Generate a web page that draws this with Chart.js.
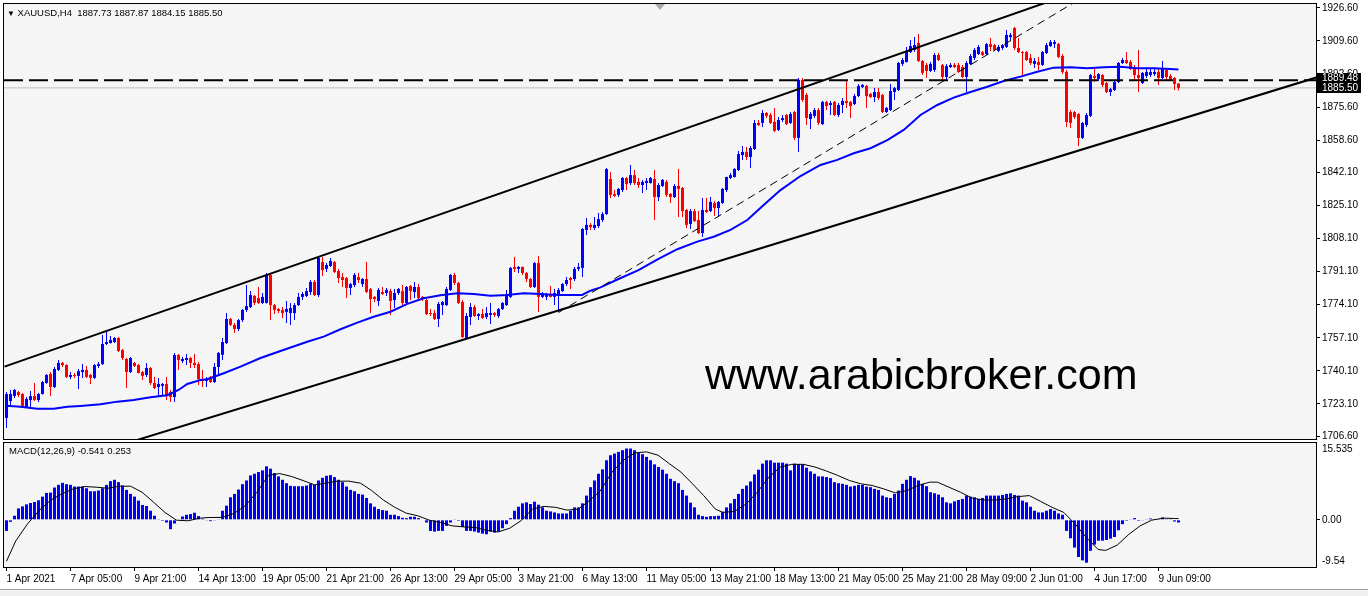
<!DOCTYPE html>
<html>
<head>
<meta charset="utf-8">
<title>XAUUSD H4</title>
<script src="https://cdn.jsdelivr.net/npm/chart.js@4.4.1/dist/chart.umd.min.js"></script>
<style>
  html, body { margin: 0; padding: 0; background: #fff; }
  #wrap { position: relative; width: 1368px; height: 596px; overflow: hidden; background: #fff;
          font-family: "Liberation Sans", Arial, sans-serif; }
  #price { position: absolute; left: 0; top: 0; }
  #macd { position: absolute; left: 0; top: 440px; }
  .lbl { position: absolute; white-space: pre; color: #000; }
  #head { left: 7px; top: 7px; font-size: 9.5px; line-height: 11px; }
  #macdHead { left: 9px; top: 445px; font-size: 9.5px; line-height: 11px; }
  #site { left: 705px; top: 353px; font-size: 43px; line-height: 43px; }
  #shift { position: absolute; left: 655px; top: 4px; width: 0; height: 0;
           border-left: 5px solid transparent; border-right: 5px solid transparent; border-top: 6px solid #a8a8a8; }
  #foot { position: absolute; left: 0; top: 589px; width: 1368px; height: 7px; background: #f0f0f0; border-top: 1px solid #a0a0a0; }
</style>
</head>
<body>
<div id="wrap">
  <canvas id="price" width="1368" height="441"></canvas>
  <canvas id="macd" width="1368" height="150"></canvas>
  <div id="shift"></div>
  <div class="lbl" id="head"><span style="font-size:8px">▼</span> XAUUSD,H4  1887.73 1887.87 1884.15 1885.50</div>
  <div class="lbl" id="macdHead">MACD(12,26,9) -0.541 0.253</div>
  <div class="lbl" id="site">www.arabicbroker.com</div>
  <div id="foot"></div>
</div>
<script>
// H4 candles, [open, high, low, close]
const ohlc = [
  [1715.9,1729.2,1710.8,1728.2],[1724.6,1730.3,1722.6,1728.2],[1727.2,1730.8,1726.2,1730.3],[1729.2,1729.8,1726.7,1727.7],
  [1728.2,1728.7,1721.5,1722.1],[1721.5,1726.7,1721.0,1725.7],[1725.1,1729.8,1721.5,1727.2],[1727.2,1733.9,1724.6,1725.1],
  [1725.1,1728.7,1724.1,1728.2],[1728.2,1734.9,1728.0,1734.4],[1733.9,1738.5,1733.5,1738.0],[1738.5,1739.5,1727.2,1731.8],
  [1731.8,1742.1,1731.3,1741.1],[1740.6,1745.7,1740.0,1744.2],[1744.2,1744.7,1742.1,1743.1],[1743.1,1743.5,1736.5,1737.0],
  [1737.0,1739.5,1735.9,1738.0],[1738.0,1739.0,1736.5,1737.5],[1737.5,1741.1,1730.8,1740.0],[1739.5,1743.6,1736.5,1740.6],
  [1740.6,1742.6,1736.5,1737.0],[1738.0,1738.5,1733.4,1736.5],[1736.5,1743.6,1735.9,1743.1],[1742.6,1744.7,1741.6,1743.6],
  [1743.6,1758.5,1743.1,1753.9],[1753.9,1760.1,1753.4,1754.9],[1754.4,1758.0,1754.2,1756.0],[1754.9,1757.5,1754.4,1757.0],
  [1757.0,1757.5,1749.8,1750.3],[1750.8,1751.3,1745.7,1746.7],[1746.2,1746.7,1731.3,1739.5],[1739.5,1747.2,1739.0,1746.7],
  [1744.2,1744.7,1742.1,1742.6],[1743.1,1743.6,1738.7,1739.0],[1739.5,1740.0,1735.4,1737.5],[1738.0,1744.2,1737.0,1741.6],
  [1741.6,1742.1,1732.9,1733.9],[1733.9,1737.0,1730.8,1731.3],[1731.8,1736.5,1727.2,1733.4],[1732.4,1733.9,1727.2,1733.4],
  [1733.4,1737.0,1725.1,1727.2],[1729.2,1730.3,1724.1,1726.7],[1726.7,1749.3,1724.1,1748.3],[1748.3,1748.8,1740.6,1745.7],
  [1745.2,1747.2,1744.2,1746.2],[1745.7,1748.8,1743.1,1746.7],[1746.7,1747.2,1741.6,1744.2],[1744.2,1748.8,1741.6,1743.1],
  [1743.6,1744.7,1732.9,1735.9],[1735.9,1740.6,1731.8,1734.9],[1734.9,1737.0,1731.8,1735.9],[1737.0,1737.5,1733.9,1734.4],
  [1734.4,1744.2,1733.9,1742.1],[1742.1,1749.8,1738.0,1749.3],[1748.3,1757.0,1745.7,1754.9],[1754.4,1769.8,1753.9,1766.8],
  [1766.8,1767.3,1763.2,1763.7],[1763.7,1764.7,1759.6,1761.6],[1761.6,1766.8,1760.6,1766.2],[1766.2,1771.9,1765.2,1771.4],
  [1771.4,1784.2,1770.4,1773.4],[1772.9,1781.1,1772.4,1779.1],[1778.6,1779.1,1773.9,1775.0],[1777.5,1783.2,1774.5,1775.0],
  [1775.0,1780.1,1774.5,1778.1],[1775.0,1790.4,1774.7,1789.4],[1789.4,1790.4,1766.2,1773.9],[1773.9,1774.5,1769.3,1771.4],
  [1771.9,1772.4,1769.8,1770.9],[1771.4,1772.9,1767.3,1769.8],[1770.4,1776.0,1764.7,1771.9],[1769.8,1775.0,1763.7,1772.4],
  [1769.8,1775.0,1766.2,1773.9],[1773.9,1780.1,1773.4,1778.1],[1778.1,1780.6,1776.5,1779.6],[1778.6,1782.7,1778.1,1781.1],
  [1780.6,1786.8,1779.1,1785.8],[1785.8,1786.8,1778.6,1779.1],[1779.1,1798.6,1778.1,1798.1],[1796.0,1798.6,1788.9,1791.9],
  [1792.5,1795.5,1790.9,1794.5],[1794.0,1798.1,1793.5,1796.6],[1796.0,1796.6,1790.4,1790.9],[1791.4,1792.5,1785.3,1787.8],
  [1788.3,1790.4,1783.2,1786.8],[1787.8,1788.3,1777.5,1782.7],[1782.7,1785.3,1779.1,1784.7],[1784.2,1790.4,1783.2,1789.4],
  [1788.3,1790.4,1785.3,1786.8],[1784.7,1787.8,1783.2,1787.3],[1787.3,1796.0,1780.1,1780.6],[1782.2,1782.7,1769.8,1777.0],
  [1778.1,1778.6,1775.5,1777.0],[1776.0,1782.7,1773.4,1781.7],[1780.6,1783.2,1779.1,1779.6],[1780.1,1782.7,1778.6,1781.7],
  [1781.1,1782.2,1768.8,1776.0],[1776.5,1782.2,1772.4,1780.1],[1780.1,1782.7,1779.1,1782.2],[1781.1,1784.2,1773.9,1775.0],
  [1775.0,1783.7,1774.5,1783.2],[1783.7,1784.2,1776.5,1781.1],[1780.6,1785.8,1777.5,1783.2],[1783.2,1784.7,1777.0,1777.5],
  [1778.1,1778.6,1776.0,1777.0],[1776.5,1777.0,1768.8,1769.3],[1769.8,1771.9,1768.3,1769.3],[1769.8,1771.4,1766.2,1766.8],
  [1766.8,1775.5,1762.7,1774.5],[1773.9,1776.0,1768.8,1775.5],[1773.9,1783.2,1773.4,1782.2],[1781.7,1789.9,1781.1,1789.4],
  [1789.4,1790.4,1784.2,1785.3],[1785.3,1785.8,1774.5,1775.0],[1775.5,1776.5,1757.0,1757.5],[1757.0,1769.8,1756.5,1768.3],
  [1767.8,1775.0,1763.7,1772.9],[1772.9,1773.9,1767.8,1768.3],[1768.3,1769.8,1766.2,1769.3],[1769.3,1771.9,1766.8,1767.3],
  [1767.8,1772.9,1766.8,1769.8],[1768.8,1775.0,1764.2,1769.8],[1769.8,1770.4,1767.8,1768.8],[1768.3,1772.4,1767.3,1771.9],
  [1771.9,1775.5,1771.4,1775.0],[1773.9,1781.7,1773.4,1779.6],[1778.1,1793.5,1777.5,1793.0],[1793.5,1798.6,1790.9,1792.5],
  [1792.5,1794.0,1790.4,1793.5],[1793.5,1793.7,1789.4,1790.4],[1790.4,1790.9,1785.8,1787.3],[1787.3,1787.8,1782.7,1783.2],
  [1783.2,1796.0,1782.7,1795.5],[1795.5,1799.1,1770.4,1778.1],[1778.1,1780.6,1777.5,1779.6],[1778.1,1780.1,1776.5,1779.6],
  [1779.1,1783.7,1777.8,1778.1],[1778.1,1782.2,1773.9,1780.1],[1779.6,1782.7,1770.4,1781.7],[1781.1,1785.3,1780.6,1784.7],
  [1784.7,1788.3,1783.7,1786.8],[1787.8,1788.3,1782.2,1786.8],[1787.3,1793.5,1786.3,1792.5],[1792.5,1795.5,1791.4,1793.5],
  [1793.0,1813.5,1788.3,1813.0],[1812.5,1818.7,1809.9,1815.1],[1815.1,1816.1,1812.5,1814.0],[1813.5,1819.2,1812.5,1815.1],
  [1814.5,1821.2,1813.5,1818.1],[1817.6,1821.7,1816.6,1820.7],[1820.7,1844.3,1820.2,1843.8],[1838.7,1842.3,1828.9,1830.5],
  [1831.0,1833.0,1829.4,1830.0],[1830.5,1834.1,1829.4,1833.6],[1833.0,1839.7,1832.0,1839.2],[1839.2,1839.7,1833.0,1836.1],
  [1836.6,1845.9,1835.6,1840.7],[1840.7,1843.3,1835.6,1836.6],[1837.2,1839.2,1834.1,1835.6],[1835.6,1838.2,1831.5,1837.2],
  [1836.6,1839.2,1833.0,1837.7],[1836.6,1839.7,1836.4,1839.2],[1838.7,1843.3,1817.6,1829.4],[1829.4,1836.6,1827.4,1835.6],
  [1835.1,1838.7,1834.6,1838.2],[1837.2,1838.2,1829.4,1830.5],[1831.0,1831.5,1826.4,1829.4],[1829.4,1836.1,1828.9,1835.1],
  [1835.1,1843.8,1819.2,1833.6],[1834.1,1834.6,1819.2,1822.2],[1822.8,1823.3,1813.5,1815.1],[1815.6,1823.3,1813.0,1822.2],
  [1822.2,1823.3,1816.6,1817.1],[1817.6,1822.2,1810.4,1810.9],[1810.9,1828.9,1808.9,1822.8],[1822.8,1828.9,1821.2,1821.7],
  [1822.2,1829.4,1821.7,1826.9],[1826.4,1827.4,1819.7,1823.8],[1823.8,1827.4,1819.2,1826.9],[1826.4,1834.1,1825.8,1833.6],
  [1833.0,1839.9,1832.0,1839.7],[1839.2,1841.8,1838.7,1840.7],[1839.7,1844.3,1839.5,1843.8],[1843.3,1853.1,1842.8,1851.5],
  [1851.0,1855.6,1848.5,1852.6],[1852.6,1855.1,1848.5,1850.0],[1850.0,1855.6,1844.3,1854.6],[1854.1,1869.0,1853.6,1867.5],
  [1867.5,1869.0,1865.9,1866.4],[1867.5,1874.1,1865.4,1872.6],[1872.6,1873.1,1870.0,1871.1],[1871.6,1872.6,1866.9,1867.5],
  [1868.0,1875.2,1862.8,1863.4],[1863.9,1870.5,1863.4,1869.0],[1869.0,1871.6,1868.0,1870.0],[1871.6,1872.1,1866.4,1866.9],
  [1867.5,1873.1,1866.9,1872.1],[1873.1,1873.6,1858.7,1859.8],[1859.8,1890.6,1852.6,1889.6],[1889.6,1890.6,1878.3,1879.3],
  [1881.9,1882.9,1866.4,1870.0],[1869.5,1873.1,1864.4,1872.1],[1871.1,1875.2,1870.0,1874.1],[1874.1,1875.2,1866.4,1867.5],
  [1866.9,1878.8,1866.4,1878.3],[1878.3,1878.8,1874.1,1876.2],[1876.7,1878.8,1871.6,1877.7],[1878.3,1878.8,1871.1,1871.6],
  [1871.6,1877.7,1870.5,1876.7],[1876.7,1880.3,1872.6,1878.8],[1878.8,1889.6,1875.2,1877.7],[1878.3,1878.8,1870.0,1876.2],
  [1877.2,1882.4,1876.7,1881.3],[1881.3,1887.5,1880.8,1886.5],[1886.0,1887.5,1885.5,1887.0],[1886.5,1887.0,1875.2,1881.3],
  [1882.4,1882.9,1880.3,1880.8],[1880.8,1885.4,1878.3,1883.4],[1883.4,1885.4,1879.3,1880.3],[1881.9,1882.4,1872.6,1873.1],
  [1873.1,1875.7,1872.6,1875.2],[1874.1,1887.5,1873.6,1883.9],[1883.4,1886.0,1879.3,1885.4],[1884.4,1898.8,1883.9,1898.3],
  [1897.8,1900.9,1896.7,1899.8],[1898.8,1906.5,1898.6,1904.5],[1903.9,1910.1,1903.4,1907.0],[1905.0,1911.6,1903.9,1907.5],
  [1908.6,1913.2,1898.8,1899.3],[1899.3,1899.8,1892.1,1893.2],[1897.3,1898.3,1890.6,1894.2],[1894.2,1898.8,1893.7,1897.8],
  [1894.7,1903.4,1893.7,1902.4],[1902.4,1903.4,1899.3,1899.8],[1897.3,1897.8,1888.5,1891.1],[1891.1,1897.8,1889.0,1896.7],
  [1896.2,1898.3,1895.7,1897.3],[1897.3,1898.3,1895.7,1896.2],[1897.3,1898.3,1893.2,1893.7],[1896.2,1897.3,1890.6,1891.1],
  [1891.1,1899.3,1883.4,1898.3],[1897.8,1902.9,1897.3,1901.9],[1900.9,1906.0,1899.8,1905.0],[1902.9,1907.5,1902.4,1906.5],
  [1903.9,1904.5,1901.9,1902.4],[1902.9,1908.6,1902.4,1908.0],[1908.0,1911.1,1904.5,1906.5],[1907.5,1908.0,1904.5,1905.0],
  [1904.5,1907.5,1903.9,1906.5],[1906.0,1908.0,1905.0,1907.5],[1906.5,1915.2,1906.0,1912.7],[1911.6,1913.7,1909.6,1912.7],
  [1916.3,1916.8,1905.0,1906.0],[1906.0,1911.1,1903.4,1903.9],[1903.9,1904.5,1891.1,1903.4],[1903.9,1904.5,1899.3,1899.8],
  [1900.9,1902.9,1897.3,1898.3],[1897.8,1900.9,1895.7,1899.3],[1898.8,1901.4,1894.7,1897.3],[1897.3,1904.5,1896.7,1903.9],
  [1903.4,1908.6,1902.9,1907.5],[1907.0,1910.1,1906.5,1909.1],[1908.1,1910.1,1906.0,1909.1],[1908.1,1908.6,1900.9,1901.4],
  [1901.9,1902.9,1892.6,1893.7],[1893.7,1894.7,1865.4,1868.0],[1873.1,1874.1,1864.9,1867.5],[1873.1,1873.6,1869.5,1870.5],
  [1872.1,1872.6,1855.6,1859.8],[1859.8,1868.0,1859.2,1867.5],[1866.4,1872.6,1865.4,1871.6],[1871.1,1892.6,1870.5,1892.1],
  [1891.6,1896.2,1888.5,1890.6],[1890.1,1893.2,1889.0,1892.6],[1892.1,1892.6,1886.0,1887.0],[1888.0,1888.5,1882.9,1883.4],
  [1883.4,1885.4,1881.3,1884.9],[1884.4,1889.6,1883.9,1888.5],[1888.5,1898.8,1888.0,1898.3],[1898.3,1900.9,1897.8,1899.8],
  [1899.8,1903.9,1897.8,1898.3],[1898.8,1899.8,1894.7,1895.2],[1895.7,1897.3,1889.6,1892.1],[1892.1,1905.0,1883.4,1890.6],
  [1888.0,1893.7,1887.5,1893.2],[1891.6,1896.2,1890.6,1893.7],[1892.1,1895.7,1891.1,1893.7],[1892.6,1896.2,1891.6,1893.7],
  [1893.7,1895.2,1887.0,1890.6],[1890.6,1899.3,1890.1,1895.2],[1894.7,1895.7,1889.6,1891.1],[1891.6,1892.6,1889.0,1889.6],
  [1890.6,1891.1,1884.4,1887.5],[1887.73,1887.87,1884.15,1885.50]
];

// moving average, [bar, price]
const maPoints = [
  [0,1722.2],[3.5,1721.7],[7.7,1720.7],[11.8,1720.7],[15.2,1721.7],[18.5,1722.1],[23.5,1722.9],[27.7,1724.3],
  [31.8,1725.1],[36,1726.5],[40.2,1727.6],[43,1730.3],[45.2,1733.4],[48.5,1735.4],[50.2,1735.8],[54.3,1738.9],
  [58.5,1742.3],[63.5,1746.7],[69.75,1751.2],[75.2,1755.1],[79.3,1757.7],[83.5,1761.5],[87.7,1764.9],[91.8,1767.9],
  [96,1770.5],[100.2,1774.5],[104.3,1777.4],[108.5,1778.9],[112.7,1780.0],[116.8,1779.6],[121,1778.7],[125.2,1779.1],
  [129.3,1780.0],[133.5,1779.6],[137.7,1779.1],[141.8,1779.1],[143.9,1779.1],[146,1781.3],[148.5,1783.0],[153,1787.3],
  [158,1791.9],[163,1797.6],[167.7,1802.6],[172.7,1806.5],[176.8,1809.0],[181,1812.5],[185.2,1817.6],[189.3,1825.3],
  [193.5,1833.0],[198.5,1840.2],[203.5,1845.9],[207.7,1848.5],[211.8,1851.9],[216,1854.5],[220.2,1858.7],[224.3,1863.9],
  [228.5,1871.6],[232.7,1876.7],[236.8,1880.5],[241,1883.4],[245.2,1886.1],[249.3,1889.0],[253.5,1891.3],[257.7,1893.8],
  [261.8,1895.9],[266,1896.1],[270.2,1895.6],[274.3,1896.1],[278.5,1896.4],[282.7,1895.6],[286.8,1895.6],[291,1895.2],
  [293,1895.0]
];

// MACD histogram, one value per bar
const macdHist = [
  -2.24,-0.41,0.82,2.31,2.72,3.13,3.40,3.61,3.95,4.69,
  5.44,5.51,6.53,7.07,7.48,7.21,7.07,6.73,6.73,6.73,
  6.39,5.78,5.78,5.92,6.39,7.07,7.82,8.10,7.62,6.94,
  6.05,5.24,4.69,3.88,3.00,2.79,1.84,0.82,0.14,-0.20,
  -0.54,-1.90,-0.75,0,0.68,1.02,1.16,1.43,0.75,0.20,
  -0.07,-0.27,-0.14,0.07,1.84,2.86,4.56,5.24,6.12,7.21,
  7.96,8.98,9.32,9.66,10.0,10.82,10.34,9.46,8.78,8.10,
  7.41,6.87,6.80,6.80,6.80,6.94,7.28,7.07,7.96,8.50,
  8.91,9.05,8.64,8.10,7.62,6.73,6.05,5.78,5.24,5.10,
  4.42,3.33,2.65,2.18,1.97,1.84,1.02,1.02,0.75,0.41,
  0.34,0.61,0.61,0.34,0,-0.54,-2.24,-2.38,-2.24,-2.24,
  -1.22,-0.54,0.07,-0.20,-1.43,-2.24,-2.24,-2.38,-2.59,-2.79,
  -2.93,-2.38,-2.59,-2.38,-1.70,-0.88,0.34,1.84,2.65,3.33,
  3.54,3.20,3.67,3.06,2.52,1.84,1.70,1.50,1.29,1.29,
  1.29,1.84,2.52,2.52,3.33,4.90,6.60,7.96,9.32,
  10.20,12.04,13.06,13.40,13.74,14.08,14.42,14.42,14.08,13.54,
  13.27,12.72,12.04,11.22,10.68,10.14,9.32,8.30,7.82,7.41,
  6.05,4.90,3.47,2.52,1.02,0.75,0.61,0.75,0.75,0.82,
  1.63,2.52,3.33,4.22,5.24,6.26,6.94,7.76,9.18,10.14,
  11.36,12.04,12.04,11.56,11.56,11.56,11.36,10.0,11.36,11.22,
  11.22,10.54,9.80,9.32,8.78,8.78,8.64,8.44,7.62,7.41,
  7.28,7.07,6.73,6.87,7.07,7.07,6.73,6.60,6.26,6.05,
  4.90,4.56,4.42,5.24,5.92,7.28,8.10,8.84,8.50,7.96,
  7.28,6.80,5.58,5.37,5.10,4.56,3.54,3.33,3.74,4.01,
  4.22,4.90,4.69,4.56,4.22,4.42,4.90,4.90,4.90,4.90,
  5.03,5.24,5.37,5.03,4.90,3.88,3.54,2.65,1.84,1.50,
  1.50,1.84,2.18,1.84,1.29,1.02,-2.24,-3.74,-5.61,-7.52,
  -8.20,-8.67,-6.26,-5.03,-4.22,-4.22,-4.08,-3.81,-3.47,-2.11,
  -0.88,-0.20,0.07,0.34,-0.20,-0.07,0.07,0.27,0.14,0.07,
  0.48,0.14,0.14,-0.34,-0.541
];

// MACD signal line, [bar, value]
const signalPoints = [
  [0,-8.37],[2.3,-4.29],[5.2,-0.88],[8.1,1.84],[10.9,3.88],[13.8,5.24],[16.7,6.26],[19.6,6.73],[22.4,6.60],
  [25.3,6.39],[28.2,6.80],[31,6.80],[33.9,5.58],[36.8,3.54],[39.6,1.50],[42.5,-0.07],[45.4,-0.20],[48.3,0.34],
  [51.1,0.48],[54,0.48],[56.9,1.29],[59.7,2.86],[62.6,5.58],[65.5,9.0],[68.3,9.35],[71.2,8.78],[74.1,7.96],
  [77,7.07],[79.8,7.41],[82.7,7.82],[85.6,7.82],[88.5,7.41],[91.3,5.92],[94.2,4.01],[97.1,2.52],[99.9,1.36],
  [102.8,0.82],[105.7,-0.07],[108.5,-0.54],[111.4,-1.22],[114.3,-1.43],[117.2,-1.56],[120,-2.11],[122.9,-2.45],
  [125.8,-1.70],[128.6,-0.20],[131.5,2.18],[134.4,2.72],[137.3,2.52],[140.1,1.97],[143,2.18],[145.9,4.01],
  [148.4,5.8],[151.4,9.66],[154.2,12.04],[157.1,13.54],[160,13.74],[162.9,13.06],[165.7,11.36],[168.6,9.66],
  [171.5,7.28],[174.3,4.90],[177.2,2.18],[179.1,1.50],[182,1.70],[184.9,3.20],[187.7,5.58],[190.6,8.64],
  [193.5,10.68],[196.3,11.22],[199.2,11.22],[202.1,10.68],[205,9.86],[207.8,8.98],[210.7,7.96],[213.6,7.28],
  [216.4,6.94],[219.3,6.26],[222.2,5.44],[225.1,5.92],[227.9,6.94],[230.8,7.62],[232.7,7.62],[235.6,6.60],
  [238.5,5.58],[241.3,4.42],[244.2,4.01],[247.1,4.01],[249.9,4.22],[252.8,4.69],[255.7,4.90],[258.5,3.74],
  [261.4,2.52],[264.3,1.50],[267.2,-0.88],[270,-3.61],[272.9,-5.99],[274.8,-6.19],[277.7,-5.10],[280.6,-2.93],
  [283.4,-1.22],[286.3,-0.07],[289.2,0.34],[292,0.27],[293,0.253]
];

// drawn trend lines, [bar, price] at both ends
const upperChannel = [[-0.5, 1742.3], [270, 1936.6]];
const lowerChannel = [[20, 1696.6], [327.4, 1890.8]];
const dashTrend = [[138, 1770.1], [270, 1933.2]];
const lineLevel = 1889.48;
const bidLevel = 1885.50;

const priceTicks = [1926.60, 1909.60, 1892.60, 1875.60, 1858.60, 1842.10, 1825.10, 1808.10,
                    1791.10, 1774.10, 1757.10, 1740.10, 1723.10, 1706.60];
const macdTicks = [15.535, 0, -9.54];
const macdTickLabels = ["15.535", "0.00", "-9.54"];
const timeTickBars = [0, 16, 32, 48, 64, 80, 96, 112, 128, 144, 160, 176, 192, 208, 224, 240, 256, 272, 288];
const timeLabels = ["1 Apr 2021", "7 Apr 05:00", "9 Apr 21:00", "14 Apr 13:00", "19 Apr 05:00", "21 Apr 21:00",
  "26 Apr 13:00", "29 Apr 05:00", "3 May 21:00", "6 May 13:00", "11 May 05:00", "13 May 21:00",
  "18 May 13:00", "21 May 05:00", "25 May 21:00", "28 May 09:00", "2 Jun 01:00", "4 Jun 17:00", "9 Jun 09:00"];

window.addEventListener("DOMContentLoaded", () => {
  const bull = "#0000ff";
  const bear = "#ff0000";
  const xMin = -0.625;
  const xMax = 327.375;
  const tickFont = { family: "Liberation Sans", size: 10 };

  const colors = ohlc.map((c) => (c[3] >= c[0] ? bull : bear));
  const pts = (arr) => arr.map((p) => ({ x: p[0], y: p[1] }));

  const framePlugin = {
    id: "frame",
    beforeDraw(chart) {
      const { ctx, chartArea: a } = chart;
      ctx.save();
      ctx.fillStyle = "#f5f5f5";
      ctx.fillRect(a.left, a.top, a.right - a.left, a.bottom - a.top);
      ctx.restore();
    },
    afterDraw(chart) {
      const { ctx, chartArea: a } = chart;
      ctx.save();
      ctx.strokeStyle = "#000";
      ctx.lineWidth = 1;
      ctx.strokeRect(a.left - 0.5, a.top - 0.5, a.right - a.left + 1, a.bottom - a.top + 1);
      ctx.restore();
    },
  };

  // black price tags on the right axis
  const tagPlugin = {
    id: "tags",
    afterDraw(chart) {
      const { ctx } = chart;
      const y = chart.scales.y;
      const x0 = chart.chartArea.right + 1;
      const bidY = Math.round(y.getPixelForValue(bidLevel));
      let lvlY = Math.round(y.getPixelForValue(lineLevel));
      if (bidY - lvlY < 10) lvlY = bidY - 10;
      ctx.save();
      ctx.font = '10px "Liberation Sans"';
      ctx.textBaseline = "middle";
      [[lvlY, lineLevel], [bidY, bidLevel]].forEach(([py, v]) => {
        ctx.fillStyle = "#000";
        ctx.fillRect(x0, py - 5, 44, 10);
        ctx.fillStyle = "#fff";
        ctx.fillText(v.toFixed(2), x0 + 5, py + 0.5);
      });
      ctx.restore();
    },
  };

  const noPad = (s) => { s.paddingTop = 0; s.paddingBottom = 0; s.paddingLeft = 0; s.paddingRight = 0; };

  new Chart(document.getElementById("price"), {
    type: "bar",
    data: {
      datasets: [
        { type: "line", data: pts(upperChannel), borderColor: "#000", borderWidth: 2, pointRadius: 0, order: 0 },
        { type: "line", data: pts(lowerChannel), borderColor: "#000", borderWidth: 2, pointRadius: 0, order: 0 },
        { type: "line", data: pts(dashTrend), borderColor: "#000", borderWidth: 1, borderDash: [8, 5], pointRadius: 0, order: 0 },
        { type: "line", data: [{ x: xMin, y: lineLevel }, { x: xMax, y: lineLevel }], borderColor: "#000",
          borderWidth: 2, borderDash: [19, 6], pointRadius: 0, order: 0 },
        { type: "line", data: pts(maPoints), borderColor: bull, borderWidth: 2, pointRadius: 0, order: 1 },
        { type: "bar", data: ohlc.map((c, i) => ({ x: i, y: [c[0], c[3]] })), backgroundColor: colors,
          barThickness: 3, grouped: false, minBarLength: 1, inflateAmount: 0, order: 2 },
        { type: "bar", data: ohlc.map((c, i) => ({ x: i, y: [c[2], c[1]] })), backgroundColor: colors,
          barThickness: 1, grouped: false, inflateAmount: 0, order: 3 },
        { type: "line", data: [{ x: xMin, y: bidLevel }, { x: xMax, y: bidLevel }], borderColor: "#c0c0c0",
          borderWidth: 1, pointRadius: 0, order: 4 },
      ],
    },
    options: {
      responsive: false,
      animation: false,
      layout: { autoPadding: false, padding: { left: 4, top: 4, right: 0, bottom: 2 } },
      plugins: { legend: { display: false }, tooltip: { enabled: false } },
      scales: {
        x: { type: "linear", min: xMin, max: xMax, offset: false, display: false, grid: { display: false, offset: false } },
        y: {
          position: "right",
          min: 1705.1,
          max: 1928.6,
          afterBuildTicks: (s) => { s.ticks = priceTicks.map((v) => ({ value: v })); },
          afterFit: (s) => { s.width = 52; noPad(s); },
          border: { display: false },
          grid: { drawOnChartArea: false, drawTicks: true, tickLength: 4, color: "#000" },
          ticks: { font: tickFont, color: "#000", padding: 2, autoSkip: false, callback: (v) => v.toFixed(2) },
        },
      },
    },
    plugins: [framePlugin, tagPlugin],
  });

  const macdShift = 1.22;
  new Chart(document.getElementById("macd"), {
    type: "bar",
    data: {
      datasets: [
        { type: "line", data: pts(signalPoints), borderColor: "#000", borderWidth: 1, pointRadius: 0, order: 0 },
        { type: "bar", data: macdHist.map((v, i) => ({ x: i, y: v })), backgroundColor: bull,
          barThickness: 3, inflateAmount: 0, order: 1 },
      ],
    },
    options: {
      responsive: false,
      animation: false,
      layout: { autoPadding: false, padding: { left: 4, top: 3, right: 0, bottom: 0 } },
      plugins: { legend: { display: false }, tooltip: { enabled: false } },
      scales: {
        x: {
          type: "linear", min: xMin, max: xMax, offset: false,
          afterBuildTicks: (s) => { s.ticks = timeTickBars.map((v) => ({ value: v })); },
          afterFit: (s) => { s.height = 23; noPad(s); },
          border: { display: false },
          grid: { drawOnChartArea: false, drawTicks: true, tickLength: 4, color: "#000", offset: false },
          ticks: { font: tickFont, color: "#000", padding: 2, align: "start", maxRotation: 0, autoSkip: false,
                   callback: (v, i) => timeLabels[i] },
        },
        y: {
          position: "right",
          min: -9.54,
          max: 15.535,
          afterBuildTicks: (s) => {
            s.ticks = macdTicks.map((v) => ({ value: v > 0 ? v - macdShift : v < 0 ? v + macdShift : v }));
          },
          afterFit: (s) => { s.width = 52; noPad(s); },
          border: { display: false },
          grid: { drawOnChartArea: false, drawTicks: true, tickLength: 4,
                  tickColor: (c) => (c.tick && c.tick.value === 0 ? "#000" : "rgba(0,0,0,0)") },
          ticks: { font: tickFont, color: "#000", padding: 2, autoSkip: false, callback: (v, i) => macdTickLabels[i] },
        },
      },
    },
    plugins: [framePlugin],
  });
});
</script>
</body>
</html>
